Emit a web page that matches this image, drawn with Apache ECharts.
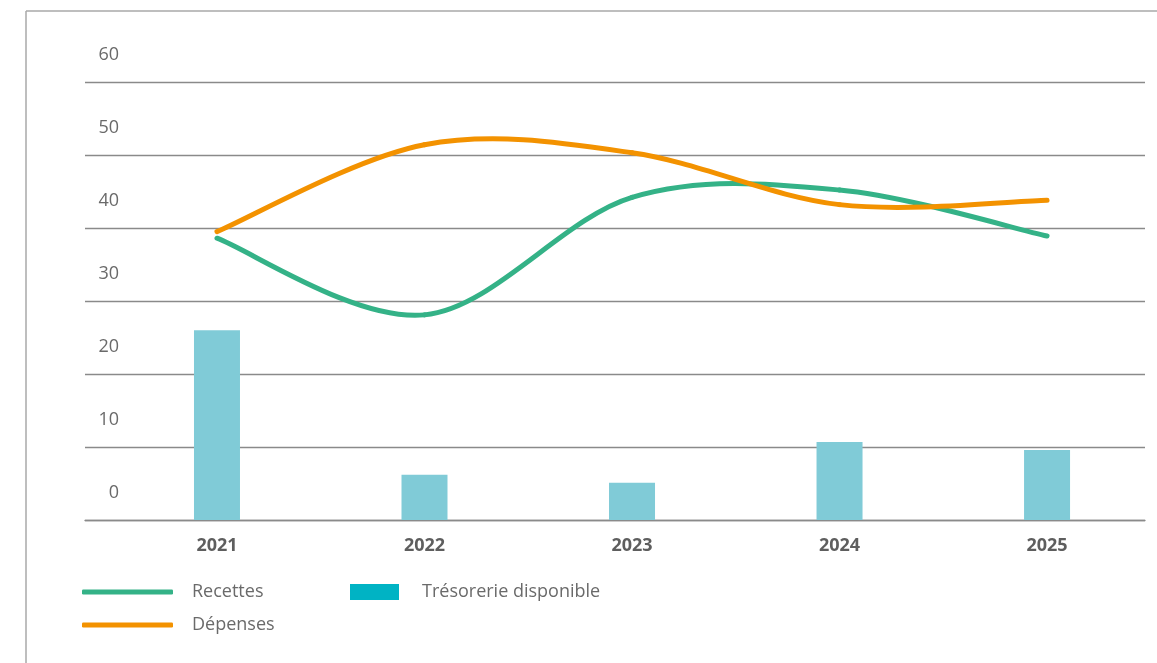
<!DOCTYPE html>
<html>
<head>
<meta charset="utf-8">
<script src="https://cdn.jsdelivr.net/npm/echarts@6/dist/echarts.min.js"></script>
<style>
  html, body { margin: 0; padding: 0; background: #fff; }
  #chart { width: 1157px; height: 663px; }
</style>
</head>
<body>
<div id="chart"></div>
<script>
// Years shown on the horizontal axis
const years = [2021, 2022, 2023, 2024, 2025];
// Amounts per year
const recettes = [38.6, 28.1, 44.2, 45.2, 38.9];
const depenses = [39.5, 51.4, 50.3, 43.2, 43.8];
const tresorerie = [26.0, 6.2, 5.1, 10.7, 9.6];
// Vertical scale ticks
const yTicks = [0, 10, 20, 30, 40, 50, 60];

const GREEN = '#34b287';
const ORANGE = '#f39200';
const BAR = '#80cbd7';
const BAR_KEY = '#00b3c4';
const TEXT = '#6a6a6a';
const FONT = '"Open Sans", "Noto Sans", sans-serif';

const pairs = arr => years.map((y, i) => [y, arr[i]]);

// Smooth curve through the points (Catmull-Rom style Bezier segments),
// one segment per data item, positioned by the chart's own coordinate system.
function smoothLine(values, color) {
  const pts = pairs(values);
  return function (params, api) {
    const i = params.dataIndex;
    if (i >= pts.length - 1) return null;
    const p = k => api.coord(pts[Math.max(0, Math.min(pts.length - 1, k))]);
    const p0 = p(i - 1), p1 = p(i), p2 = p(i + 1), p3 = p(i + 2);
    return {
      type: 'bezierCurve',
      shape: {
        x1: p1[0], y1: p1[1],
        cpx1: p1[0] + (p2[0] - p0[0]) / 6, cpy1: p1[1] + (p2[1] - p0[1]) / 6,
        cpx2: p2[0] - (p3[0] - p1[0]) / 6, cpy2: p2[1] - (p3[1] - p1[1]) / 6,
        x2: p2[0], y2: p2[1]
      },
      style: { stroke: color, lineWidth: 5, fill: null, lineCap: 'round' }
    };
  };
}

const chart = echarts.init(document.getElementById('chart'));
chart.setOption({
  animation: false,
  backgroundColor: '#fff',
  textStyle: { fontFamily: FONT },
  grid: { left: 85, top: 82, width: 1060, height: 438, containLabel: false },
  xAxis: {
    type: 'value',
    min: 2020.364,
    max: 2025.472,
    splitLine: { show: false },
    axisTick: { show: false },
    axisLine: { show: true, lineStyle: { color: '#8a8a8a', width: 1.3 } },
    axisLabel: {
      customValues: years,
      margin: 17,
      fontSize: 18,
      fontWeight: 'bold',
      color: '#5e5e5e',
      fontFamily: FONT,
      formatter: v => String(v)
    }
  },
  yAxis: {
    type: 'value',
    min: yTicks[0],
    max: yTicks[yTicks.length - 1],
    interval: 10,
    offset: -42,
    axisLine: { show: false },
    axisTick: { show: false },
    splitLine: { lineStyle: { color: '#8a8a8a', width: 1.3 } },
    axisLabel: {
      margin: 8,
      fontSize: 18,
      color: TEXT,
      fontFamily: FONT,
      verticalAlign: 'bottom',
      lineHeight: 54
    }
  },
  legend: [
    {
      orient: 'vertical',
      left: 82,
      top: 580,
      padding: 0,
      itemWidth: 91,
      itemHeight: 5,
      itemGap: 9,
      icon: 'roundRect',
      textStyle: { fontSize: 18, color: TEXT, fontFamily: FONT, lineHeight: 24, padding: [0, 0, 0, 14] },
      data: ['Recettes', 'Dépenses']
    },
    {
      left: 350,
      top: 580,
      padding: 0,
      itemWidth: 49,
      itemHeight: 16,
      icon: 'rect',
      textStyle: { fontSize: 18, color: TEXT, fontFamily: FONT, lineHeight: 24, padding: [0, 0, 0, 18] },
      data: [{ name: 'Trésorerie disponible', itemStyle: { color: BAR_KEY } }]
    }
  ],
  graphic: [
    { type: 'line', shape: { x1: 26, y1: 11, x2: 1157, y2: 11 }, style: { stroke: '#a8a8a8', lineWidth: 1.5 }, silent: true },
    { type: 'line', shape: { x1: 26, y1: 11, x2: 26, y2: 663 }, style: { stroke: '#a8a8a8', lineWidth: 1.5 }, silent: true }
  ],
  series: [
    {
      name: 'Trésorerie disponible',
      type: 'bar',
      barWidth: 46,
      itemStyle: { color: BAR },
      data: pairs(tresorerie),
      z: 2
    },
    {
      name: 'Recettes',
      type: 'custom',
      renderItem: smoothLine(recettes, GREEN),
      itemStyle: { color: GREEN },
      encode: { x: 0, y: 1 },
      data: pairs(recettes),
      z: 3
    },
    {
      name: 'Dépenses',
      type: 'custom',
      renderItem: smoothLine(depenses, ORANGE),
      itemStyle: { color: ORANGE },
      encode: { x: 0, y: 1 },
      data: pairs(depenses),
      z: 4
    }
  ]
});
</script>
</body>
</html>
